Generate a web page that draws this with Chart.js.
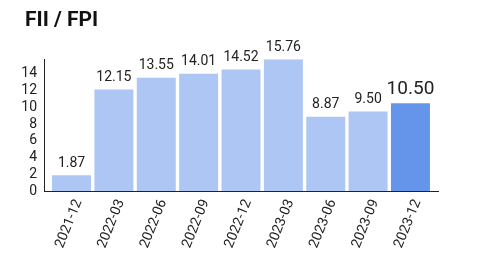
<!DOCTYPE html>
<html><head><meta charset="utf-8">
<script src="https://cdn.jsdelivr.net/npm/chart.js@4/dist/chart.umd.min.js"></script>
<style>html,body{margin:0;padding:0;background:#fff}#wrap{width:480px;height:270px}</style>
</head><body><div id="wrap"><canvas id="c" width="480" height="270"></canvas></div>
<script>
const categories = ["2021-12","2022-03","2022-06","2022-09","2022-12","2023-03","2023-06","2023-09","2023-12"];
const values = [1.87, 12.15, 13.55, 14.01, 14.52, 15.76, 8.87, 9.50, 10.50];
const yTicks = [0, 2, 4, 6, 8, 10, 12, 14];
const title = "FII / FPI";

const lightBlue = "#aec6f4";
const darkBlue = "#6594eb";
const colors = values.map((v, i) => i === values.length - 1 ? darkBlue : lightBlue);

const labelPlugin = {
  id: 'valLabels',
  afterLayout(chart) {
    if (chart.titleBlock) { chart.titleBlock.left += 8; chart.titleBlock.right += 8; }
  },
  afterDatasetsDraw(chart) {
    const ctx = chart.ctx;
    const meta = chart.getDatasetMeta(0);
    ctx.save();
    ctx.fillStyle = '#222';
    ctx.textAlign = 'center';
    ctx.textBaseline = 'bottom';
    meta.data.forEach((bar, i) => {
      const last = i === values.length - 1;
      ctx.font = (last ? '19px' : '14px') + ' Roboto';
      ctx.fillText(values[i].toFixed(2), bar.x, bar.y - (last ? 4 : 5));
    });
    ctx.restore();
  }
};

new Chart(document.getElementById('c'), {
  type: 'bar',
  data: {
    datasets: [{
      data: values.map((v, i) => ({x: i, y: v})),
      backgroundColor: colors,
      borderWidth: 0,
      barPercentage: 0.92,
      categoryPercentage: 1.0
    }]
  },
  options: {
    responsive: false,
    animation: false,
    devicePixelRatio: 1,
    layout: {padding: {left: 17, right: 42, top: 8, bottom: 20}},
    plugins: {
      legend: {display: false},
      tooltip: {enabled: false},
      title: {
        display: true, text: title, align: 'start', color: '#111',
        font: {family: 'Roboto', size: 21, weight: 'bold'},
        padding: {top: 0, bottom: 26}
      }
    },
    scales: {
      x: {
        type: 'linear', min: -0.65, max: 8.65, offset: false,
        grid: {display: false, drawTicks: false},
        border: {display: true, color: '#222', width: 1},
        afterBuildTicks(scale) { scale.ticks = categories.map((c, i) => ({value: i})); },
        afterFit(scale) { scale.height = 59; scale.paddingLeft = 0; scale.paddingRight = 0; },
        ticks: {
          color: '#222', font: {family: 'Roboto', size: 14},
          minRotation: 68, maxRotation: 68, padding: 6, labelOffset: 7,
          autoSkip: false,
          callback: (v) => categories[v]
        }
      },
      y: {
        min: 0, max: 15.76,
        grid: {display: false, drawTicks: false},
        border: {display: true, color: '#222', width: 1},
        afterBuildTicks(scale) { scale.ticks = yTicks.map(v => ({value: v})); },
        afterFit(scale) { scale.width = 27; },
        ticks: {color: '#222', font: {family: 'Roboto', size: 14}, padding: 7, autoSkip: false}
      }
    }
  },
  plugins: [labelPlugin]
});
</script></body></html>
